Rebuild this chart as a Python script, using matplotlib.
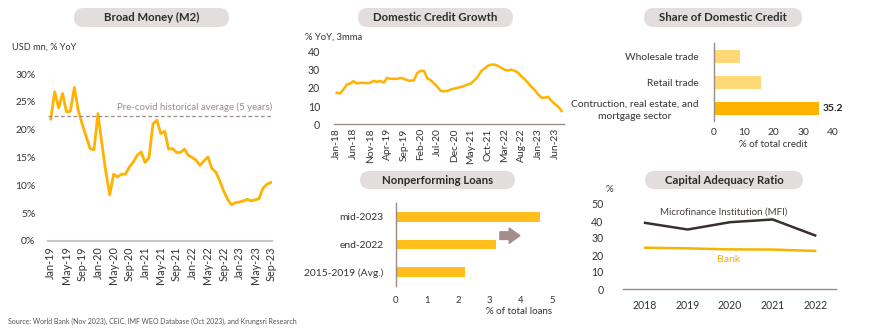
import matplotlib
matplotlib.use("Agg")
import matplotlib.pyplot as plt
from matplotlib.patches import FancyBboxPatch
import numpy as np

plt.rcParams["font.family"] = ["Lato", "DejaVu Sans"]

# Broad money (M2), % YoY, monthly Jan-19 .. Sep-23
m2_growth = [21.9, 26.8, 23.9, 26.5, 23.2, 23.3, 27.6, 23.5, 21.0, 18.8, 16.6, 16.4,
             22.9, 17.5, 12.5, 8.3, 12.0, 11.5, 12.0, 12.0, 13.3, 14.2, 15.4, 16.0,
             14.1, 15.0, 21.0, 21.7, 19.3, 19.7, 16.5, 16.6, 15.9, 15.9, 16.5, 15.4,
             15.0, 14.5, 13.6, 14.4, 15.1, 13.0, 12.4, 10.8, 9.0, 7.5, 6.5, 6.9,
             7.0, 7.2, 7.5, 7.2, 7.4, 7.6, 9.5, 10.2, 10.5]
m2_ticks = ["Jan-19", "May-19", "Sep-19", "Jan-20", "May-20", "Sep-20", "Jan-21",
            "May-21", "Sep-21", "Jan-22", "May-22", "Sep-22", "Jan-23", "May-23", "Sep-23"]
precovid_avg = 22.4

# Domestic credit growth, % YoY 3mma, monthly Jan-18 .. Aug-23
credit_growth = [17.3, 17.0, 19.2, 21.9, 22.5, 23.8, 22.5, 22.9, 22.9, 22.7, 22.9, 24.0,
                 23.4, 24.0, 23.0, 25.6, 25.1, 25.1, 25.1, 25.6, 25.1, 24.3, 24.0, 24.3,
                 28.4, 29.5, 29.5, 25.3, 24.3, 22.5, 20.6, 18.4, 18.2, 18.4, 19.2, 19.7,
                 20.1, 20.6, 21.2, 21.9, 22.5, 24.3, 26.2, 29.3, 30.8, 32.3, 33.0, 33.0,
                 32.3, 31.2, 30.2, 29.7, 30.2, 29.5, 28.6, 26.5, 24.9, 22.9, 20.6, 18.8,
                 16.4, 14.6, 14.6, 15.1, 12.7, 11.1, 9.6, 7.2]
credit_ticks = ["Jan-18", "Jun-18", "Nov-18", "Apr-19", "Sep-19", "Feb-20", "Jul-20",
                "Dec-20", "May-21", "Oct-21", "Mar-22", "Aug-22", "Jan-23", "Jun-23"]

# Share of domestic credit, % of total credit
sectors = ["Contruction, real estate, and\nmortgage sector", "Retail trade", "Wholesale trade"]
sector_share = [35.2, 15.8, 8.9]

# Nonperforming loans, % of total loans
npl_periods = ["2015-2019 (Avg.)", "end-2022", "mid-2023"]
npl_ratio = [2.2, 3.2, 4.6]

# Capital adequacy ratio, %
car_years = [2018, 2019, 2020, 2021, 2022]
car_mfi = [38.9, 35.0, 39.3, 40.9, 31.5]
car_bank = [24.3, 23.9, 23.3, 23.2, 22.4]

W, H = 870, 335
GOLD = "#FFB300"
LIGHT = "#FFD978"
TXT = "#333333"
BROWN = "#9C8A87"
AXIS = "#C8C4C4"

fig = plt.figure(figsize=(W / 100, H / 100), dpi=100)


def px_axes(left, top, right, bottom):
    return fig.add_axes([left / W, 1 - bottom / H, (right - left) / W, (bottom - top) / H])


def pill(x0, y0, x1, y1, text):
    box = FancyBboxPatch((x0 / 100, (H - y1) / 100), (x1 - x0) / 100, (y1 - y0) / 100,
                         boxstyle="round,pad=0,rounding_size=0.095",
                         transform=fig.dpi_scale_trans, facecolor="#E3DEDD",
                         edgecolor="none", zorder=0)
    fig.patches.append(box)
    fig.text((x0 + x1) / 2 / W, 1 - (y0 + y1) / 2 / H, text, ha="center", va="center",
             fontsize=8.2, fontweight="bold", color="#2B2B2B")


def clean(ax):
    for s in ax.spines.values():
        s.set_visible(False)
    ax.tick_params(length=0, labelsize=7.4, colors=TXT)
    ax.set_facecolor("none")


# --- Broad Money (M2)
pill(74, 8, 229, 27, "Broad Money (M2)")
fig.text(12 / W, 1 - 47 / H, "USD mn, % YoY", fontsize=6.6, color=TXT, va="center")
ax1 = px_axes(48, 74, 272, 241)
clean(ax1)
x1 = np.arange(len(m2_growth))
ax1.plot(x1, m2_growth, color=GOLD, lw=2)
ax1.axhline(precovid_avg, color=BROWN, lw=0.9, ls=(0, (3, 2)))
ax1.text(x1[-1] + 0.3, precovid_avg + 0.8, "Pre-covid historical average (5 years)",
         ha="right", va="bottom", fontsize=6.9, color=BROWN)
ax1.set_xlim(-0.7, 56.3)
ax1.set_ylim(0, 30)
ax1.set_yticks(np.arange(0, 31, 5))
ax1.set_yticklabels([f"{v}%" for v in range(0, 31, 5)])
ax1.set_xticks(np.arange(0, len(m2_growth), 4))
ax1.set_xticklabels(m2_ticks, rotation=90)
ax1.tick_params(axis="y", pad=9)
ax1.tick_params(axis="x", pad=4, labelsize=7.8)
ax1.spines["bottom"].set_visible(True)
ax1.spines["bottom"].set_color(AXIS)
ax1.spines["bottom"].set_linewidth(1.5)

# --- Domestic Credit Growth
pill(358, 8, 513, 27, "Domestic Credit Growth")
fig.text(305 / W, 1 - 37 / H, "% YoY, 3mma", fontsize=6.8, color=TXT, va="center")
ax2 = px_axes(334, 52, 564, 124)
clean(ax2)
x2 = np.arange(len(credit_growth))
ax2.plot(x2, credit_growth, color=GOLD, lw=1.8)
ax2.set_xlim(-0.8, 67.7)
ax2.set_ylim(0, 40)
ax2.set_yticks(np.arange(0, 41, 10))
ax2.set_xticks(np.arange(0, len(credit_growth), 5))
ax2.set_xticklabels(credit_ticks, rotation=90)
ax2.tick_params(axis="y", pad=10, labelsize=7.6)
ax2.tick_params(axis="x", pad=3)
ax2.spines["bottom"].set_visible(True)
ax2.spines["bottom"].set_color(BROWN)
ax2.spines["bottom"].set_linewidth(1)

# --- Share of Domestic Credit
pill(644, 8, 802, 27, "Share of Domestic Credit")
ax3 = px_axes(714, 43, 833, 121)
clean(ax3)
y3 = np.arange(len(sectors))
ax3.barh(y3, sector_share, height=0.5, color=[GOLD, LIGHT, LIGHT])
ax3.text(sector_share[0] + 1.2, y3[0], f"{sector_share[0]:.1f}", va="center",
         fontsize=7.5, fontweight="bold", color="#222222")
ax3.set_xlim(0, 40)
ax3.set_ylim(-0.5, 2.5)
ax3.set_xticks(np.arange(0, 41, 10))
ax3.set_yticks(y3)
ax3.set_yticklabels(sectors, ha="right", multialignment="center", linespacing=1.45)
ax3.tick_params(axis="y", pad=11)
ax3.tick_params(axis="x", pad=5)
ax3.spines["left"].set_visible(True)
ax3.spines["left"].set_color(BROWN)
ax3.spines["left"].set_linewidth(1)
ax3.set_xlabel("% of total credit", fontsize=7, color=TXT, labelpad=2)

# --- Nonperforming Loans
pill(360, 171, 515, 189, "Nonperforming Loans")
ax4 = px_axes(396, 203, 552, 286)
clean(ax4)
y4 = np.arange(len(npl_periods))
ax4.barh(y4, npl_ratio, height=0.36, color="#FFBE1E")
ax4.annotate("", xy=(3.97, 1.32), xytext=(3.33, 1.32),
             arrowprops=dict(arrowstyle="simple,head_width=1.0,head_length=0.7,tail_width=0.5",
                             color="#A48E8A", mutation_scale=11, shrinkA=0, shrinkB=0))
ax4.set_xlim(0, 5)
ax4.set_ylim(-0.5, 2.5)
ax4.set_xticks(np.arange(0, 6))
ax4.set_yticks(y4)
ax4.set_yticklabels(npl_periods)
ax4.tick_params(axis="y", pad=9)
ax4.tick_params(axis="x", pad=7, labelsize=6.8)
ax4.spines["left"].set_visible(True)
ax4.spines["left"].set_color(BROWN)
ax4.spines["left"].set_linewidth(1)
ax4.set_xlabel("% of total loans", fontsize=7, color=TXT, labelpad=2, loc="right")

# --- Capital Adequacy Ratio
pill(645, 171, 803, 189, "Capital Adequacy Ratio")
fig.text(609 / W, 1 - 189 / H, "%", fontsize=7, color=TXT, ha="center", va="center")
ax5 = px_axes(623, 204, 836, 289)
clean(ax5)
ax5.plot(car_years, car_mfi, color="#3A2E2E", lw=1.8)
ax5.plot(car_years, car_bank, color="#F5B400", lw=1.8)
ax5.text(2019.85, 45.5, "Microfinance Institution (MFI)", ha="center", va="center",
         fontsize=7, color="#4A3E3E")
ax5.text(2019.95, 17.6, "Bank", ha="center", va="center", fontsize=7.5, color="#F0AE00")
ax5.set_xlim(2017.48, 2022.49)
ax5.set_ylim(0, 50)
ax5.set_yticks(np.arange(0, 51, 10))
ax5.set_xticks(car_years)
ax5.tick_params(axis="y", pad=14, labelsize=7.6)
ax5.tick_params(axis="x", pad=8, labelsize=7.6)
ax5.spines["bottom"].set_visible(True)
ax5.spines["bottom"].set_color(BROWN)
ax5.spines["bottom"].set_linewidth(1)

fig.text(8 / W, 1 - 321 / H,
         "Source: World Bank (Nov 2023), CEIC, IMF WEO Database (Oct 2023), and Krungsri Research",
         fontsize=5.0, color="#555555", va="center")

fig.savefig("out.png", dpi=100)
